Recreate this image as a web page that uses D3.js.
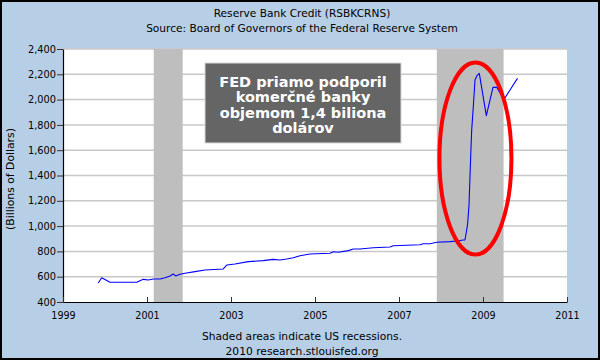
<!DOCTYPE html>
<html><head><meta charset="utf-8">
<script src="https://cdn.jsdelivr.net/npm/d3@7"></script>
<style>
html,body{margin:0;padding:0;background:#fff;}
svg{display:block;}
text{font-family:"DejaVu Sans",Verdana,sans-serif;}
</style></head>
<body>
<svg id="chart" width="600" height="360"></svg>
<script>
// ---- data ----
const titleLines = ["Reserve Bank Credit (RSBKCRNS)", "Source: Board of Governors of the Federal Reserve System"];
const footerLines = ["Shaded areas indicate US recessions.", "2010 research.stlouisfed.org"];
const yLabel = "(Billions of Dollars)";
const noteLines = ["FED priamo podporil", "komerčné banky", "objemom 1,4 biliona", "dolárov"];
const xTicks = [1999, 2001, 2003, 2005, 2007, 2009, 2011];
const yTicks = [400, 600, 800, 1000, 1200, 1400, 1600, 1800, 2000, 2200, 2400];
const recessions = [[2001.16, 2001.85], [2007.9, 2009.49]];
const dates = [1999.840, 1999.921, 2000.119, 2000.755, 2000.912, 2001.031, 2001.150, 2001.310, 2001.429,
  2001.548, 2001.626, 2001.683, 2001.786, 2001.905, 2002.143, 2002.381, 2002.817, 2002.898, 2003.095,
  2003.412, 2003.769, 2004.007, 2004.167, 2004.326, 2004.483, 2004.643, 2004.881, 2005.357, 2005.436,
  2005.555, 2005.793, 2005.912, 2006.071, 2006.388, 2006.786, 2006.864, 2007.500, 2007.579, 2007.738,
  2007.898, 2008.214, 2008.374, 2008.531, 2008.571, 2008.612, 2008.635, 2008.667, 2008.690, 2008.714,
  2008.731, 2008.769, 2008.810, 2008.857, 2008.912, 2009.079, 2009.238, 2009.326, 2009.405, 2009.500,
  2009.643, 2009.821];
const values = [550, 592, 556, 556, 579, 574, 582, 582, 592,
  606, 621, 606, 619, 627, 640, 653, 661, 692, 700,
  719, 727, 737, 732, 740, 750, 766, 779, 785, 797,
  793, 806, 819, 819, 829, 835, 845, 853, 861, 861,
  872, 877, 882, 890, 890, 969, 1022, 1167, 1390, 1615,
  1760, 1944, 2155, 2190, 2208, 1873, 2097, 2097, 2052, 2002,
  2076, 2168];

// ---- layout ----
const W = 600, H = 360;
const m = {left: 63, right: 567, top: 49, bottom: 302};
const svg = d3.select("#chart");
const x = d3.scaleLinear().domain([1999, 2011]).range([m.left, m.right]);
const y = d3.scaleLinear().domain([400, 2400]).range([m.bottom, m.top]);

// background + border
svg.append("rect").attr("x", 0).attr("y", 0).attr("width", W).attr("height", H).attr("fill", "#000");
svg.append("rect").attr("x", 2).attr("y", 2).attr("width", W - 4).attr("height", H - 4).attr("fill", "#B7CFE6");

// plot area
svg.append("rect").attr("x", m.left).attr("y", m.top)
  .attr("width", m.right - m.left).attr("height", m.bottom - m.top).attr("fill", "#fff");

// gridlines
svg.append("g").selectAll("line").data(yTicks.filter(v => v > 400)).join("line")
  .attr("x1", m.left).attr("x2", m.right)
  .attr("y1", d => y(d)).attr("y2", d => y(d))
  .attr("stroke", "#C8C8C8").attr("stroke-width", 1.5);

// recessions
svg.append("g").selectAll("rect").data(recessions).join("rect")
  .attr("x", d => x(d[0])).attr("width", d => x(d[1]) - x(d[0]))
  .attr("y", m.top).attr("height", m.bottom - m.top)
  .attr("fill", "#BEBEBE");

// line
const pts = dates.map((d, i) => [d, values[i]]);
svg.append("path").datum(pts)
  .attr("fill", "none").attr("stroke", "#0000ff").attr("stroke-width", 1.1)
  .attr("stroke-linejoin", "round")
  .attr("d", d3.line().x(d => x(d[0])).y(d => y(d[1])));

// y axis
const yAxis = svg.append("g").attr("transform", `translate(${m.left},0)`)
  .call(d3.axisLeft(y).tickValues(yTicks).tickFormat(d3.format(",")).tickSize(6).tickSizeOuter(0));
yAxis.select(".domain").attr("stroke", "#000").attr("stroke-width", 1.2);
yAxis.selectAll(".tick line").attr("stroke", "#333");
yAxis.selectAll(".tick text").attr("x", -7).attr("font-size", 9.8).attr("fill", "#000")
  .attr("font-family", "DejaVu Sans, Verdana, sans-serif");

// x axis
const xAxis = svg.append("g").attr("transform", `translate(0,${m.bottom})`)
  .call(d3.axisBottom(x).tickValues(xTicks).tickFormat(d3.format("d")).tickSize(-5).tickSizeOuter(0));
xAxis.select(".domain").attr("stroke", "#000").attr("stroke-width", 1.2);
xAxis.selectAll(".tick line").attr("stroke", "#333");
xAxis.selectAll(".tick text").attr("y", 10).attr("dy", "0.71em").attr("font-size", 9.6).attr("fill", "#000")
  .attr("font-family", "DejaVu Sans, Verdana, sans-serif");

// titles
svg.append("g").selectAll("text").data(titleLines).join("text")
  .attr("x", 302).attr("y", (d, i) => 16.5 + i * 15)
  .attr("text-anchor", "middle").attr("font-size", 10.6).attr("fill", "#000").text(d => d);

// footer
svg.append("g").selectAll("text").data(footerLines).join("text")
  .attr("x", 302).attr("y", (d, i) => 340 + i * 14.5)
  .attr("text-anchor", "middle").attr("font-size", 10.7).attr("fill", "#000").text(d => d);

// y label
svg.append("text").attr("transform", "translate(14,179) rotate(-90)")
  .attr("text-anchor", "middle").attr("font-size", 10.8).attr("fill", "#000").text(yLabel);

// annotation box
const boxX0 = 205, boxX1 = 401, boxY0 = 63, boxY1 = 143;
svg.append("rect").attr("x", boxX0).attr("y", boxY0).attr("width", boxX1 - boxX0).attr("height", boxY1 - boxY0)
  .attr("fill", "#656565").attr("stroke", "#d8d8d8").attr("stroke-width", 1);
const note = svg.append("text")
  .attr("text-anchor", "middle").attr("font-size", 14.5).attr("font-weight", "bold").attr("fill", "#fff");
note.selectAll("tspan").data(noteLines).join("tspan")
  .attr("x", (boxX0 + boxX1) / 2).attr("y", (d, i) => 87.3 + i * 15.1).text(d => d);

// red ellipse
svg.append("ellipse").attr("cx", x(2008.82)).attr("cy", y(1534))
  .attr("rx", 36).attr("ry", 96)
  .attr("fill", "none").attr("stroke", "#ff0000").attr("stroke-width", 4);
</script>
</body></html>
